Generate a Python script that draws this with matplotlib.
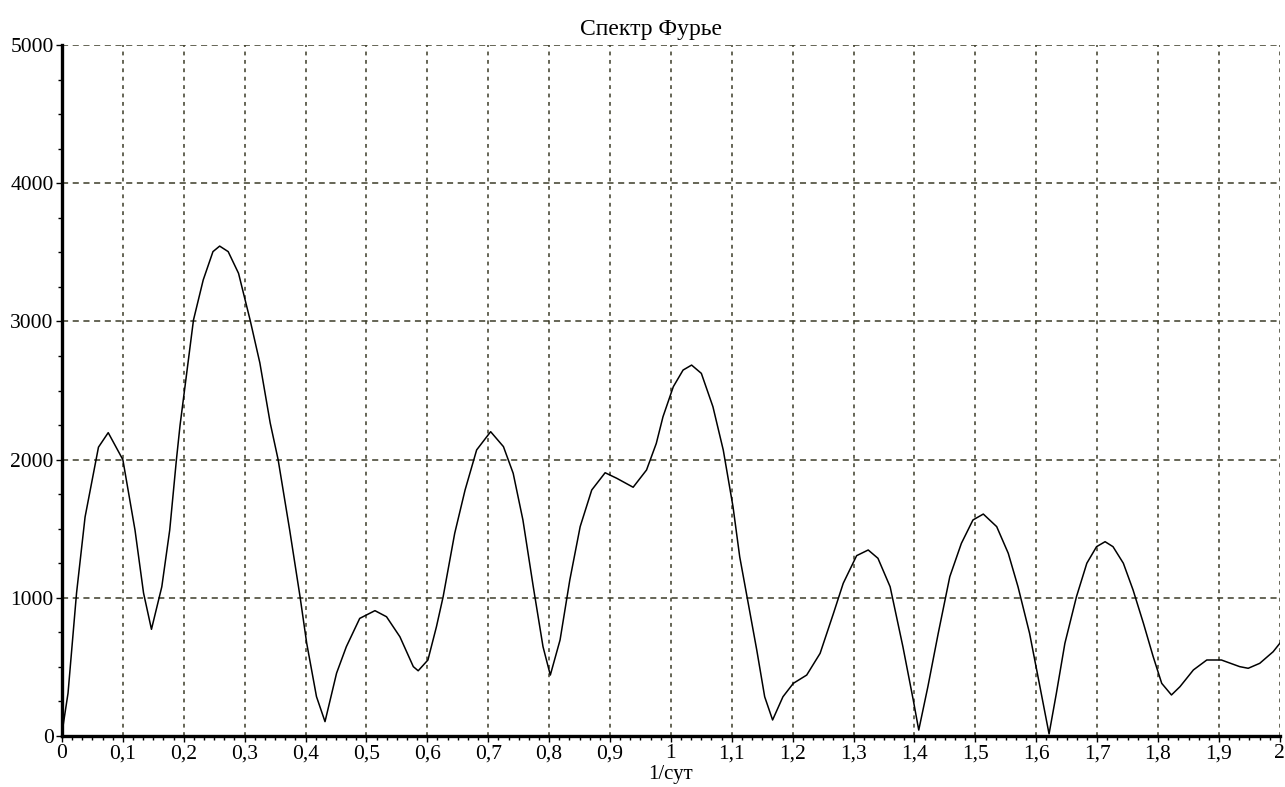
import numpy as np
import matplotlib
matplotlib.use('Agg')
import matplotlib.pyplot as plt
from matplotlib.ticker import AutoMinorLocator, FixedLocator, FixedFormatter

# values
freq = [0.0, 0.01, 0.024, 0.038, 0.06, 0.076, 0.1, 0.12, 0.134, 0.147, 0.164, 0.177,
        0.188, 0.194, 0.216, 0.232, 0.248, 0.259, 0.273, 0.29, 0.309, 0.325, 0.342,
        0.355, 0.374, 0.391, 0.402, 0.418, 0.432, 0.451, 0.467, 0.489, 0.514, 0.533,
        0.555, 0.577, 0.585, 0.601, 0.615, 0.626, 0.645, 0.662, 0.681, 0.704, 0.725,
        0.741, 0.757, 0.774, 0.79, 0.802, 0.818, 0.834, 0.851, 0.87, 0.892, 0.911,
        0.938, 0.96, 0.976, 0.987, 1.004, 1.02, 1.034, 1.05, 1.069, 1.086, 1.102,
        1.113, 1.127, 1.141, 1.154, 1.167, 1.184, 1.201, 1.223, 1.245, 1.267, 1.283,
        1.305, 1.324, 1.34, 1.36, 1.381, 1.398, 1.407, 1.422, 1.439, 1.458, 1.477,
        1.496, 1.513, 1.535, 1.554, 1.57, 1.589, 1.606, 1.621, 1.633, 1.647, 1.666,
        1.683, 1.699, 1.713, 1.726, 1.743, 1.759, 1.776, 1.792, 1.806, 1.822, 1.836,
        1.858, 1.88, 1.904, 1.934, 1.948, 1.967, 1.989, 2.0]
ampl = [20, 310, 1035, 1585, 2090, 2195, 2000, 1490, 1035, 772, 1080, 1490,
        2000, 2250, 3010, 3300, 3505, 3545, 3505, 3348, 3010, 2700, 2265,
        2000, 1490, 1008, 670, 285, 104, 455, 646, 851, 907, 863,
        718, 502, 472, 550, 791, 1008, 1467, 1780, 2070, 2202, 2094,
        1901, 1563, 1080, 646, 441, 695, 1129, 1515, 1780, 1905, 1865,
        1800, 1925, 2117, 2310, 2528, 2648, 2684, 2624, 2383, 2069, 1659,
        1297, 960, 622, 284, 116, 284, 381, 441, 598, 888, 1105,
        1305, 1346, 1286, 1080, 646, 260, 43, 357, 743, 1153, 1394,
        1563, 1606, 1515, 1322, 1080, 743, 357, 15, 309, 671, 1008,
        1250, 1370, 1406, 1370, 1250, 1056, 815, 574, 381, 297, 357,
        478, 550, 550, 502, 490, 526, 610, 671]

xticks = [0, 0.1, 0.2, 0.3, 0.4, 0.5, 0.6, 0.7, 0.8, 0.9, 1.0,
          1.1, 1.2, 1.3, 1.4, 1.5, 1.6, 1.7, 1.8, 1.9, 2.0]
xlabels = ['0', '0,1', '0,2', '0,3', '0,4', '0,5', '0,6', '0,7', '0,8', '0,9', '1',
           '1,1', '1,2', '1,3', '1,4', '1,5', '1,6', '1,7', '1,8', '1,9', '2']
yticks = [0, 1000, 2000, 3000, 4000, 5000]

plt.rcParams['font.family'] = ['Liberation Serif', 'DejaVu Serif']

fig = plt.figure(figsize=(12.85, 7.87), dpi=100)
ax = fig.add_axes([0.0482, 0.0648, 0.9478, 0.878])

ax.plot(freq, ampl, color='black', linewidth=1.1, solid_joinstyle='round')

ax.set_xlim(0, 2)
ax.set_ylim(0, 5000)
ax.xaxis.set_major_locator(FixedLocator(xticks))
ax.xaxis.set_major_formatter(FixedFormatter(xlabels))
ax.set_yticks(yticks)
ax.xaxis.set_minor_locator(AutoMinorLocator(6))
ax.yaxis.set_minor_locator(AutoMinorLocator(4))

grid_col = '#3c3c28'
ax.grid(True, axis='x', which='major', color=grid_col, linestyle=(0, (2.5, 3)), linewidth=1.1)
ax.grid(True, axis='y', which='major', color=grid_col, linestyle=(0, (4, 3)), linewidth=1.1)

for side in ['top', 'right']:
    ax.spines[side].set_visible(False)
ax.spines['left'].set_linewidth(2.4)
ax.spines['bottom'].set_linewidth(2.4)

ax.tick_params(axis='both', which='major', direction='out', length=4, width=1,
               labelsize=15.5, pad=2)
ax.tick_params(axis='both', which='minor', direction='out', length=3, width=1)

ax.set_title('Спектр Фурье', fontsize=17, pad=7, x=0.4836)
ax.set_xlabel('1/сут', fontsize=15, labelpad=1)

fig.savefig('out.png', dpi=100)
